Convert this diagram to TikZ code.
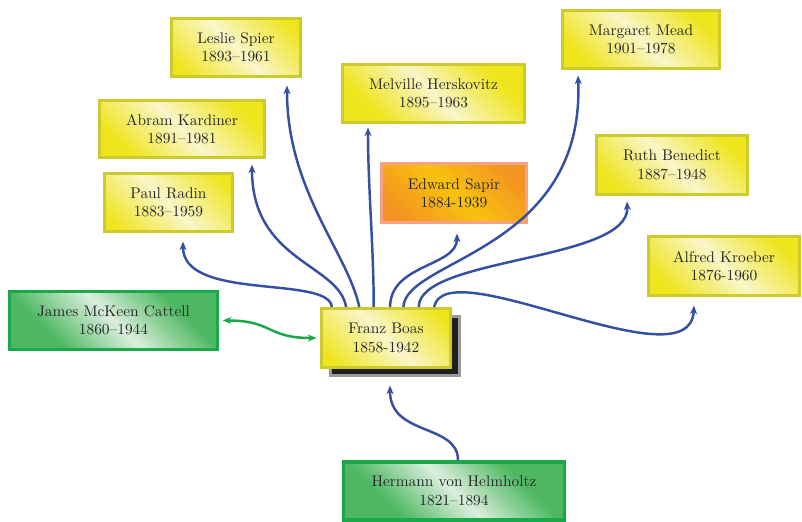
\documentclass[tikz,border=0pt]{standalone}
\usetikzlibrary{arrows.meta,calc,shadows}

\definecolor{yborder}{HTML}{CCCA2C}
\definecolor{yfill}{HTML}{EFE51C}
\definecolor{ylight}{HTML}{F9F6CA}
\definecolor{gborder}{HTML}{19A94B}
\definecolor{gfill}{HTML}{4DB861}
\definecolor{glight}{HTML}{DCEFDE}
\definecolor{oborder}{HTML}{F5A188}
\definecolor{ofill}{HTML}{F39322}
\definecolor{olight}{HTML}{F9C30E}
\definecolor{linkblue}{HTML}{3550A2}
\definecolor{linkgreen}{HTML}{17A948}

\begin{document}
\begin{tikzpicture}[x=0.65pt,y=-0.65pt,
  sz/.style 2 args={minimum width=#1*0.65pt, minimum height=#2*0.65pt},
  % base colour with a light diagonal band from top left to bottom right,
  % built from thin slanted strips
  bandfill/.style 2 args={fill=#1,
    path picture={
      \foreach \k in {-90,-87,...,87} {
        \pgfmathsetmacro\p{max(0,100*(1-abs(\k+1.5)/78))}
        \fill[#2!\p!#1] ($(path picture bounding box.center)+(\k-40,-40)$)
          -- ++(3.4,0) -- ++(80,80) -- ++(-3.4,0) -- cycle;
      }}},
  person/.style={draw, line width=2pt, align=center, text=black!85,
    inner sep=0pt, font=\normalsize},
  yellowbox/.style={person, draw=yborder, bandfill={yfill}{ylight}},
  greenbox/.style={person, draw=gborder, line width=2.3pt, bandfill={gfill}{glight}},
  orangebox/.style={person, draw=oborder, bandfill={ofill}{olight}},
  link/.style={draw=linkblue, line width=1.6pt,
    -{Stealth[length=5.5pt,width=4.5pt,inset=1.5pt]}},
  mutual/.style={draw=linkgreen, line width=1.6pt,
    {Stealth[length=5.5pt,width=4.5pt,inset=1.5pt]}-{Stealth[length=5.5pt,width=4.5pt,inset=1.5pt]}},
]
\useasboundingbox (0,0) rectangle (802,522);

% the students
\node[yellowbox, sz={129}{58}] (spier)   at (236,47.5)   {Leslie Spier\\1893--1961};
\node[yellowbox, sz={157}{58}] (mead)    at (641,39.5)   {Margaret Mead\\1901--1978};
\node[yellowbox, sz={182}{58}] (hersk)   at (433.5,93.5) {Melville Herskovitz\\1895--1963};
\node[yellowbox, sz={165}{57}] (kardiner) at (182,129)   {Abram Kardiner\\1891--1981};
\node[yellowbox, sz={151}{59}] (benedict) at (672,165)   {Ruth Benedict\\1887--1948};
\node[yellowbox, sz={128}{58}] (radin)   at (168.5,202.5) {Paul Radin\\1883--1959};
\node[orangebox, sz={145}{59}] (sapir)   at (454,193)    {Edward Sapir\\1884-1939};
\node[yellowbox, sz={151}{59}] (kroeber) at (724,266)    {Alfred Kroeber\\1876-1960};

% teachers and colleague
\node[greenbox, sz={208}{58}] (cattell) at (113.5,320.5) {James McKeen Cattell\\1860--1944};
\node[greenbox, sz={221}{58}] (helm)    at (454,491)     {Hermann von Helmholtz\\1821--1894};

% the central figure
\node[yellowbox, sz={129}{59},
  drop shadow={shadow xshift=5.8pt, shadow yshift=-5.2pt, fill=black!88,
    draw=black!40, line width=1.5pt, opacity=1}] (boas) at (386,338)
  {Franz Boas\\1858-1942};

% links from Boas to his students
\draw[link] ($(boas.north west)!0.09!(boas.north east)$)
  .. controls +(-3,-32) and +(0,60) .. ($(radin.south)+(14.5,8.5)$);
\draw[link] ($(boas.north west)!0.198!(boas.north east)$)
  .. controls +(-7,-43) and +(0,97) .. ($(kardiner.south)+(70,5.5)$);
\draw[link] ($(boas.north west)!0.298!(boas.north east)$)
  .. controls +(-12,-55) and +(0,105) .. ($(spier.south)+(51,7.5)$);
\draw[link] ($(boas.north west)!0.407!(boas.north east)$)
  .. controls +(0,-60) and +(0,60) .. ($(hersk.south)+(-65.5,3.5)$);
\draw[link] ($(boas.north west)!0.531!(boas.north east)$)
  .. controls +(0,-43) and +(0,33) .. ($(sapir.south)+(3,9.5)$);
\draw[link] ($(boas.north west)!0.632!(boas.north east)$)
  .. controls +(2,-48) and +(7,176) .. ($(mead.south)+(-63,5.5)$);
\draw[link] ($(boas.north west)!0.748!(boas.north east)$)
  .. controls +(0,-50) and +(3,60) .. ($(benedict.south)+(-45,5.5)$);
\draw[link] ($(boas.north west)!0.864!(boas.north east)$)
  .. controls +(12,-58) and +(-4,81) .. ($(kroeber.south)+(-30,8.5)$);

% teacher and colleague
\draw[link] ($(helm.north)+(4,0)$)
  .. controls +(0,-37) and +(0,51) .. ($(boas.south)+(4,16.5)$);
\draw[mutual] ($(cattell.east)+(3.5,0)$)
  .. controls +(50,0) and +(-50,0) .. ($(boas.west)+(-3.5,0)$);
\end{tikzpicture}
\end{document}
